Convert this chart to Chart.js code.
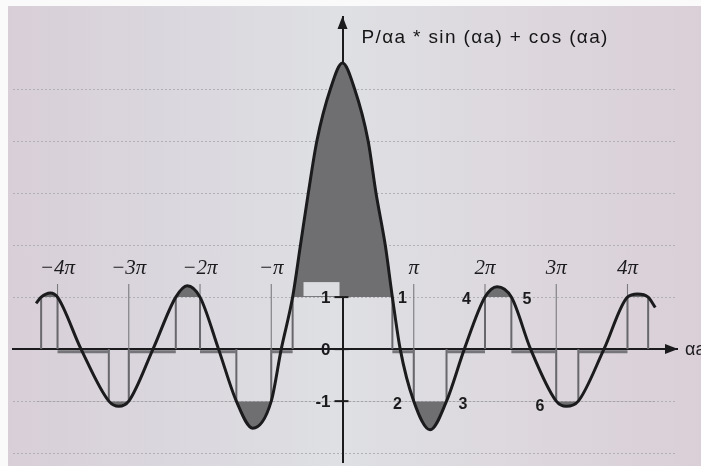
<!DOCTYPE html>
<html>
<head>
<meta charset="utf-8">
<script src="https://cdn.jsdelivr.net/npm/chart.js@4.4.0/dist/chart.umd.min.js"></script>
<style>
  html, body { margin: 0; padding: 0; }
  body {
    width: 701px; height: 466px; overflow: hidden;
    background:
      linear-gradient(to right, #fbfafb 0 8px, rgba(0,0,0,0) 8px),
      linear-gradient(to bottom, #fbfafb 0 6px, rgba(0,0,0,0) 6px),
      linear-gradient(to right, #d8ced7 0%, #dad6dd 22%, #dee0e3 48%, #ddd9de 70%, #dacfd7 100%);
  }
  canvas { display: block; }
</style>
</head>
<body>
<canvas id="kp" width="701" height="466"></canvas>
<script>
// αa is given in multiples of π
const curveX = [-4.30, -4.23, -4.10, -4.0, -3.67, -3.28, -3.14, -3.0, -2.66, -2.34, -2.18, -2.0,
                -1.74, -1.49, -1.26, -1.0, -0.86, -0.70, -0.59, -0.48, -0.36, -0.17, 0,
                0.17, 0.36, 0.47, 0.60, 0.70, 0.81, 1.0, 1.23, 1.46, 1.71, 2.0, 2.17, 2.37,
                2.64, 3.0, 3.14, 3.31, 3.67, 4.0, 4.14, 4.29, 4.39];
const curveY = [0.88, 1.0, 1.08, 1.0, 0, -1, -1.1, -1, 0, 1, 1.22, 1,
                0, -1, -1.52, -1, 0, 1, 2, 3, 4, 5, 5.5,
                5, 4, 3, 2, 1, 0, -1, -1.55, -1, 0, 1, 1.2, 1,
                0, -1, -1.1, -1, 0, 1, 1.06, 1, 0.8];

// allowed bands (|f| <= 1), drawn as strips along the axis
const bandStart = [-4.0, -3.0, -2.0, -1.0, 0.70, 1.46, 2.37, 3.31];
const bandEnd   = [-3.28, -2.34, -1.49, -0.70, 1.0, 2.0, 3.0, 4.0];

// band edges and the level (+1 / -1) reached there
const edgeX     = [-4.23, -4.0, -3.28, -3.0, -2.34, -2.0, -1.49, -1.0, -0.70,
                   0.70, 1.0, 1.46, 2.0, 2.37, 3.0, 3.31, 4.0, 4.29];
const edgeLevel = [1, 1, -1, -1, 1, 1, -1, -1, 1,
                   1, -1, -1, 1, 1, -1, -1, 1, 1];

const piTicks  = [-4, -3, -2, -1, 1, 2, 3, 4];
const piLabels = ['−4π', '−3π', '−2π', '−π', 'π', '2π', '3π', '4π'];
const piTickLow = [0, -1, 0, -1, -1, 0, -1, 0];
const piTickTop = 1.25;
const piLabelAt = 1.55;

const yTicks  = [1, 0, -1];
const yLabels = ['1', '0', '-1'];
const gridLevels = [-2, -1, 1, 2, 3, 4, 5];

const edgeNums = ['1', '2', '3', '4', '5', '6'];
const edgeNumX = [0.84, 0.77, 1.69, 1.74, 2.59, 2.77];
const edgeNumY = [0.98, -1.07, -1.07, 0.96, 0.96, -1.10];

const TITLE = 'P/αa * sin (αa) + cos (αa)';

const INK = '#1b1b1d';
const SHADE = '#6f6f72';
const EDGE = '#68686c';
const PAPER = '#dcdde1';

const curve = curveX.map((x, i) => ({ x, y: curveY[i] }));

const strips = [];
bandStart.forEach((s, i) => {
  strips.push({ x: s, y: -0.05 }, { x: bandEnd[i], y: -0.05 }, { x: bandEnd[i], y: null });
});

const edges = [];
edgeX.forEach((x, i) => {
  edges.push({ x, y: 0 }, { x, y: edgeLevel[i] }, { x, y: null });
});

const tickLines = [];
piTicks.forEach((n, i) => {
  tickLines.push({ x: n, y: piTickLow[i] }, { x: n, y: piTickTop }, { x: n, y: null });
});

function arrow(ctx, tip, dir) {
  // dir: 'right' or 'up'
  ctx.beginPath();
  if (dir === 'right') {
    ctx.moveTo(tip.x + 1, tip.y);
    ctx.lineTo(tip.x - 12, tip.y - 5);
    ctx.lineTo(tip.x - 12, tip.y + 5);
  } else {
    ctx.moveTo(tip.x, tip.y - 1);
    ctx.lineTo(tip.x - 5, tip.y + 12);
    ctx.lineTo(tip.x + 5, tip.y + 12);
  }
  ctx.closePath();
  ctx.fill();
}

const annotations = {
  id: 'annotations',
  afterDatasetsDraw(chart) {
    // paper-coloured box under the "1" label at the foot of the main peak
    const { ctx, scales: { x, y } } = chart;
    const x0 = x.getPixelForValue(0);
    const y1 = y.getPixelForValue(1);
    ctx.save();
    ctx.fillStyle = PAPER;
    ctx.fillRect(x0 - 39, y1 - 15, 36, 14);
    ctx.restore();
  },
  afterDraw(chart) {
    const { ctx, scales: { x, y } } = chart;
    const x0 = x.getPixelForValue(0);
    const y0 = y.getPixelForValue(0);
    ctx.save();
    ctx.fillStyle = INK;
    ctx.strokeStyle = INK;

    arrow(ctx, { x: x.right, y: y0 }, 'right');
    arrow(ctx, { x: x0, y: y.top }, 'up');

    // multiples of π above the curve
    ctx.font = 'italic 21px "Liberation Serif", "DejaVu Serif", serif';
    ctx.textAlign = 'center';
    ctx.textBaseline = 'middle';
    piTicks.forEach((n, i) => {
      ctx.fillText(piLabels[i], x.getPixelForValue(n), y.getPixelForValue(piLabelAt));
    });

    // y ticks crossing the axis
    ctx.lineWidth = 2;
    ctx.font = 'bold 17px "Liberation Sans", Arial, sans-serif';
    ctx.textAlign = 'right';
    yTicks.forEach((v, i) => {
      const py = y.getPixelForValue(v);
      ctx.beginPath();
      ctx.moveTo(x0 - 8, py);
      ctx.lineTo(x0 + 6, py);
      ctx.stroke();
      ctx.fillText(yLabels[i], x0 - 12, py + 1);
    });

    // numbered band edges
    ctx.textAlign = 'center';
    ctx.font = 'bold 16px "Liberation Sans", Arial, sans-serif';
    edgeNums.forEach((t, i) => {
      ctx.fillText(t, x.getPixelForValue(edgeNumX[i]), y.getPixelForValue(edgeNumY[i]));
    });

    // axis names
    ctx.textAlign = 'left';
    ctx.font = '18px "Liberation Sans", Arial, sans-serif';
    ctx.fillText('αa', x.right + 8, y0 + 1);

    ctx.font = '19px "Liberation Sans", Arial, sans-serif';
    const w = ctx.measureText(TITLE).width;
    ctx.letterSpacing = ((246 - w) / (TITLE.length - 1)).toFixed(2) + 'px';
    ctx.fillStyle = '#151517';
    ctx.fillText(TITLE, x0 + 19, y.top + 21);
    ctx.restore();
  }
};

const lineBase = { pointRadius: 0, pointHoverRadius: 0, tension: 0, fill: false };

new Chart(document.getElementById('kp'), {
  type: 'line',
  data: {
    datasets: [
      { ...lineBase, label: 'curve', data: curve, order: 0,
        borderColor: INK, borderWidth: 3, cubicInterpolationMode: 'monotone' },
      { ...lineBase, label: 'above', data: curve, order: 3, borderWidth: 0,
        borderColor: 'rgba(0,0,0,0)', cubicInterpolationMode: 'monotone',
        fill: { target: { value: 1 }, above: SHADE, below: 'rgba(0,0,0,0)' } },
      { ...lineBase, label: 'below', data: curve, order: 3, borderWidth: 0,
        borderColor: 'rgba(0,0,0,0)', cubicInterpolationMode: 'monotone',
        fill: { target: { value: -1 }, above: 'rgba(0,0,0,0)', below: SHADE } },
      { ...lineBase, label: 'bands', data: strips, order: 2,
        borderColor: '#75757a', borderWidth: 3 },
      { ...lineBase, label: 'edges', data: edges, order: 2,
        borderColor: EDGE, borderWidth: 2 },
      { ...lineBase, label: 'ticks', data: tickLines, order: 2,
        borderColor: '#7a7a7e', borderWidth: 1.1 }
    ]
  },
  options: {
    responsive: false,
    animation: false,
    devicePixelRatio: 1,
    layout: { padding: { left: 13, right: 24, top: 17, bottom: 4 } },
    plugins: { legend: { display: false }, tooltip: { enabled: false } },
    scales: {
      x: {
        type: 'linear', min: -4.625, max: 4.695,
        position: { y: 0 }, z: 1,
        grid: { display: false, drawTicks: false },
        ticks: { display: false },
        border: { display: true, color: INK, width: 2 }
      },
      y: {
        type: 'linear', min: -2.17, max: 6.385,
        position: 'left',
        afterBuildTicks: (scale) => { scale.ticks = gridLevels.map(v => ({ value: v })); },
        grid: { color: '#b1b0b6', lineWidth: 1, drawTicks: false },
        border: { display: false, dash: [2, 2] },
        ticks: { display: false }
      },
      yLine: {
        axis: 'y', type: 'linear', min: -2.17, max: 6.385,
        position: { x: 0 }, z: 1,
        grid: { display: false, drawTicks: false },
        ticks: { display: false },
        border: { display: true, color: INK, width: 2 }
      }
    }
  },
  plugins: [annotations]
});
</script>
</body>
</html>
